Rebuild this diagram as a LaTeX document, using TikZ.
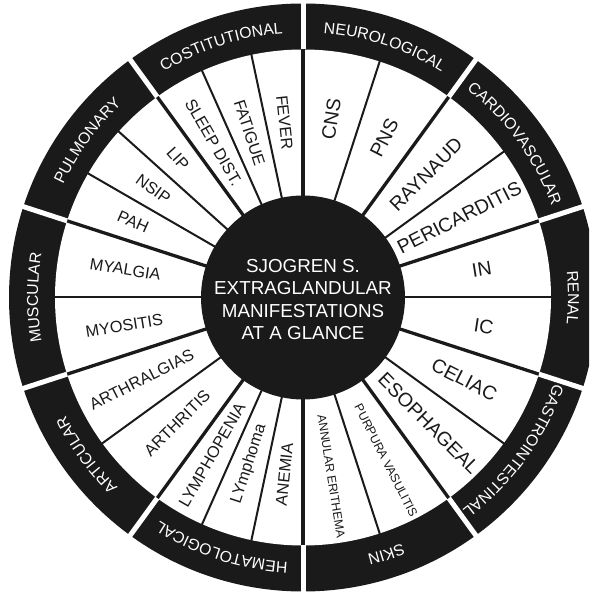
\documentclass[tikz,border=0pt]{standalone}
\usepackage{fontspec}
\setmainfont{Liberation Sans}
\usetikzlibrary{decorations.text}
\definecolor{ink}{RGB}{26,26,26}
\begin{document}
\begin{tikzpicture}[
  x=1pt,y=1pt,
  sep/.style={draw=ink, line width=2pt},
  catsep/.style={draw=ink, line width=3.3pt},
  gap/.style={draw=white, line width=5pt},
  seglabel/.style={text=ink, inner sep=0pt, anchor=center},
  ringtext/.style={decorate, decoration={text along path, text color=white, text align=center, text={|\fontsize{15.8}{15.8}\selectfont|#1}}},
]
\useasboundingbox (0,0) rectangle (589,594);
\clip (0,0) rectangle (589,594);
\begin{scope}[shift={(303,296.5)}]
\coordinate (C) at (0,0);
\fill[ink] (C) circle[radius=294pt];
\fill[white] (C) circle[radius=248pt];
% thin separators
\foreach \a in {72,36,0,-36,-72,102,114,138,150,180,216,246,258}
  \draw[sep] (\a:100pt) -- (\a:249pt);
% category separators
\foreach \a in {90,54,18,-18,-54,-90,126,162,198,234}
  \draw[catsep] (\a:100pt) -- (\a:249pt);
\fill[ink] (C) circle[radius=102pt];
% gaps in the ring
\foreach \a in {90,54,18,-18,-54,-90,126,162,198,234}
  \draw[gap] (\a:248pt) -- (\a:302pt);
% ring labels
\path[ringtext=COSTITUTIONAL] (126:265pt) arc[start angle=126, end angle=90, radius=265pt];
\path[ringtext=NEUROLOGICAL] (90:265pt) arc[start angle=90, end angle=54, radius=265pt];
\path[ringtext=CARDIOVASCULAR] (54:265pt) arc[start angle=54, end angle=18, radius=265pt];
\path[ringtext=RENAL] (18:265pt) arc[start angle=18, end angle=-18, radius=265pt];
\path[ringtext=GASTROINTESTINAL] (-18:265pt) arc[start angle=-18, end angle=-54, radius=265pt];
\path[ringtext=SKIN] (-54:265pt) arc[start angle=-54, end angle=-90, radius=265pt];
\path[ringtext=HEMATOLOGICAL] (270:265pt) arc[start angle=270, end angle=234, radius=265pt];
\path[ringtext=ARTICULAR] (234:265pt) arc[start angle=234, end angle=198, radius=265pt];
\path[ringtext=MUSCULAR] (198:265pt) arc[start angle=198, end angle=162, radius=265pt];
\path[ringtext=PULMONARY] (162:265pt) arc[start angle=162, end angle=126, radius=265pt];
% right-half labels (reading outward)
\foreach \a/\r/\s/\t/\n in {81/181/19.5/CNS/cns, 63/179/19.5/PNS/pns, 45/174/19.5/RAYNAUD/ray, 27/175.5/19.5/PERICARDITIS/peri, 9/181/19.5/IN/in, -9/183/19.5/IC/ic, -27/181/19.5/CELIAC/cel, -45/178/19.5/ESOPHAGEAL/eso, -63/183/12.2/PURPURA VASULITIS/pur, -81/181/12.2/ANNULAR ERITHEMA/ann}
  \node[seglabel, font=\fontsize{\s}{\s}\selectfont, rotate=\a] (\n) at (\a:\r pt) {\t};
% left-half labels (reading inward)
\foreach \a/\r/\s/\t/\n in {96/176/16.3/FEVER/fev, 108/173/16.3/FATIGUE/fat, 120/179/16.3/SLEEP DIST./sleep, 132/187/16.3/LIP/lip, 144/185/16.3/NSIP/nsip, 156/186/16.3/PAH/pah, 171/180/16.3/MYALGIA/myal, 189/181/16.3/MYOSITIS/myos, 207/181/16.3/ARTHRALGIAS/arthg, 225/178/16.3/ARTHRITIS/arthr, 240/182/16.3/LYMPHOPENIA/lymp, 252/175/16.3/LYmphoma/lyma, 264/178/16.3/ANEMIA/anem}
  \node[seglabel, font=\fontsize{\s}{\s}\selectfont, rotate=\a+180] (\n) at (\a:\r pt) {\t};
% centre
\node[text=white, align=center, inner sep=0pt, font=\fontsize{18.8}{22.2}\selectfont] (title) at (0,-2) {SJOGREN S.\\EXTRAGLANDULAR\\MANIFESTATIONS\\AT A GLANCE};
\end{scope}
\end{tikzpicture}
\end{document}
